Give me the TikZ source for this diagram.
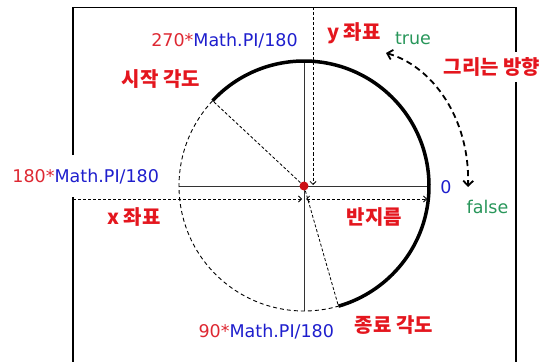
\documentclass[tikz,border=0pt]{standalone}
\usepackage{fontspec}
\setmainfont{DejaVu Sans}
\newfontfamily\krfont{Noto Sans CJK KR}
\usetikzlibrary{arrows.meta,calc}
\definecolor{lblred}{RGB}{228,22,30}
\definecolor{numred}{RGB}{222,40,50}
\definecolor{lblblue}{RGB}{30,30,205}
\definecolor{lblgreen}{RGB}{40,150,90}
\definecolor{dotred}{RGB}{205,15,20}
\begin{document}
\begin{tikzpicture}[x=1pt,y=1pt,
  lat/.style={font=\fontsize{17.5}{20}\selectfont, inner sep=0pt},
  kor/.style={font=\krfont\bfseries\fontsize{20}{23}\selectfont, text=lblred, inner sep=0pt},
  framepart/.style={line width=1.4pt, black},
  axisline/.style={line width=0.8pt, black!80},
  finedash/.style={dash pattern=on 3pt off 2pt, line width=0.8pt, black},
  circdash/.style={dash pattern=on 4pt off 3pt, line width=0.9pt, black},
  thickarc/.style={line width=3.5pt, black},
  smalltip/.style={-{Straight Barb[length=3pt,width=6pt]}},
  bothtip/.style={{Straight Barb[length=3pt,width=6pt]}-{Straight Barb[length=3pt,width=6pt]}},
  bigarrow/.style={dash pattern=on 6pt off 4pt, line width=1.8pt,
    {Straight Barb[length=5pt,width=10pt]}-{Straight Barb[length=5pt,width=10pt]}}]
\useasboundingbox (0,0) rectangle (543,362);
% frame pieces
\coordinate (ftl) at (73,354.5);
\coordinate (ftr) at (516,354.5);
\coordinate (flg1) at (73,207);
\coordinate (flg2) at (73,165);
\coordinate (flb) at (73,0);
\coordinate (frg1) at (516,310);
\coordinate (frg2) at (516,280);
\coordinate (frb) at (516,0);
\draw[framepart] (flg1) -- (ftl) -- (ftr) -- (frg1);
\draw[framepart] (flg2) -- (flb);
\draw[framepart] (frg2) -- (frb);
% circle geometry
\coordinate (c) at (304,176);
\coordinate (cl) at (179,176);
\coordinate (cr) at (429,176);
\coordinate (ct) at (304,301);
\coordinate (cb) at (304,51);
\coordinate (ps) at ($(c)+(137:125)$);
\coordinate (pe) at ($(c)+(-74:125)$);
\draw[axisline] (cl) -- (cr);
\draw[axisline] (ct) -- (cb);
\draw[circdash] (ps) arc[start angle=137, end angle=286, radius=125];
\draw[thickarc] (ps) arc[start angle=137, end angle=-74, radius=125];
\draw[finedash] (c) -- (ps);
\draw[finedash] (c) -- (pe);
% coordinate arrows
\coordinate (ytop) at (313,354.5);
\coordinate (yend) at (313,177);
\draw[finedash, smalltip] (ytop) -- (yend);
\coordinate (xl) at (73,163);
\coordinate (xe) at (302,163);
\draw[finedash, smalltip] (xl) -- (xe);
\coordinate (rs) at (306,163);
\coordinate (re) at (427,163);
\draw[finedash, bothtip] (rs) -- (re);
% center dot
\fill[dotred] (c) circle[radius=4.5];
% direction arrow
\coordinate (ds) at (386,309);
\coordinate (de) at (468,175);
\draw[bigarrow] (ds) .. controls (432,296) and (470,244) .. (de);
% labels
\node[lat] (l270) at (224.5,321.3) {\textcolor{numred}{270*}\textcolor{lblblue}{Math.PI/180}};
\node[kor] (ly) at (354,329) {y 좌표};
\node[lat, text=lblgreen] (ltrue) at (413,324) {true};
\node[kor] (ldir) at (492,295) {그리는 방향};
\node[kor] (lstart) at (161,283) {시작 각도};
\node[lat] (l180) at (85.7,185) {\textcolor{numred}{180*}\textcolor{lblblue}{Math.PI/180}};
\node[lat, text=lblblue] (l0) at (446,175) {0};
\node[lat, text=lblgreen] (lfalse) at (487.5,155) {false};
\node[kor] (lx) at (134,145) {x 좌표};
\node[kor] (lr) at (374.5,145) {반지름};
\node[lat] (l90) at (266.3,30) {\textcolor{numred}{90*}\textcolor{lblblue}{Math.PI/180}};
\node[kor] (lend) at (393.8,37) {종료 각도};
\end{tikzpicture}
\end{document}
